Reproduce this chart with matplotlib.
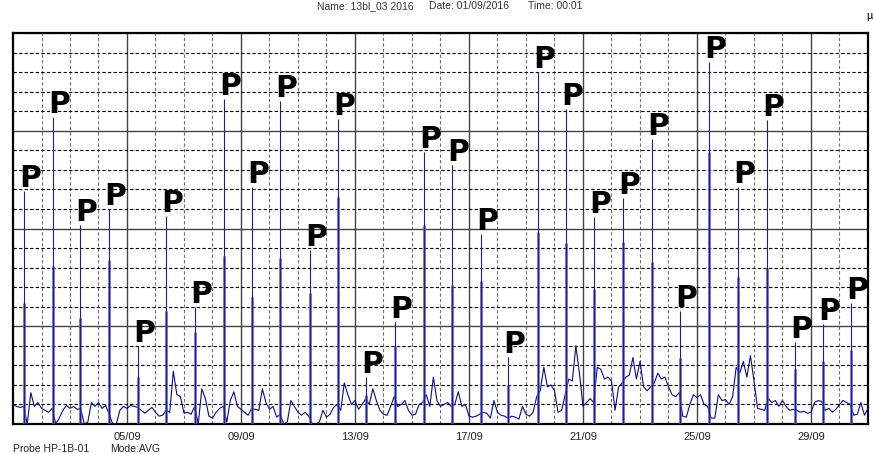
import numpy as np
import matplotlib
matplotlib.use("Agg")
import matplotlib.pyplot as plt

# baseline level, one value every 3 hours (8 per day), days 01/09 .. 30/09, grid units
base_vals = [
	1.0, 0.9, 0.85, 0.9, 0.0, 1.6, 0.9, 1.1,
	0.8, 0.7, 0.6, 0.8, 0.0, 0.3, 0.7, 0.95,
	0.8, 0.9, 0.75, 0.8, 0.0, 0.1, 1.1, 0.9,
	1.1, 0.8, 0.95, 0.5, 0.0, 0.0, 0.7, 0.9,
	0.8, 0.95, 0.9, 0.85, 0.7, 0.55, 0.7, 0.85,
	0.6, 0.4, 0.45, 0.7, 0.6, 2.7, 1.5, 1.4,
	0.55, 0.6, 0.5, 0.9, 0.0, 1.8, 1.3, 0.4,
	0.3, 0.6, 0.8, 0.9, 0.1, 1.2, 1.65, 0.9,
	0.75, 0.6, 0.45, 0.8, 0.75, 0.7, 1.8, 1.1,
	0.75, 0.9, 0.35, 0.5, 0.0, 0.1, 1.2, 0.9,
	0.6, 0.45, 0.6, 0.4, 0.0, 0.0, 0.1, 0.7,
	0.35, 0.5, 0.85, 1.0, 0.7, 2.1, 1.5, 1.0,
	1.2, 0.75, 1.0, 1.3, 1.0, 1.8, 1.2, 0.7,
	0.5, 0.45, 0.9, 1.4, 0.9, 1.0, 1.2, 0.7,
	0.45, 0.5, 1.0, 1.1, 1.5, 0.9, 2.4, 1.2,
	0.9, 1.0, 1.1, 0.9, 1.0, 1.65, 0.9, 1.0,
	0.4, 0.35, 0.4, 0.5, 0.6, 0.55, 0.3, 1.2,
	0.6, 0.45, 0.4, 0.3, 0.4, 0.35, 0.25, 0.9,
	0.5, 0.4, 0.6, 1.4, 1.7, 2.9, 1.9, 2.0,
	1.7, 0.6, 0.7, 1.5, 2.3, 2.2, 4.0, 2.6,
	0.9, 1.1, 1.3, 1.1, 2.9, 2.8, 2.3, 2.4,
	2.2, 0.7, 1.9, 2.1, 2.4, 2.5, 3.4, 2.3,
	3.2, 1.9, 1.7, 1.9, 2.1, 2.6, 2.3, 2.4,
	1.9, 1.5, 1.4, 1.6, 0.4, 0.35, 1.0, 1.5,
	1.35, 1.5, 1.0, 0.9, 0.3, 0.3, 1.5, 1.2,
	1.25, 1.0, 1.4, 2.9, 2.6, 3.2, 2.4, 3.5,
	2.2, 0.8, 0.75, 0.7, 1.3, 1.1, 1.2, 0.9,
	1.2, 0.9, 0.7, 0.75, 0.7, 0.6, 0.65, 0.55,
	0.6, 1.1, 1.2, 1.15, 0.7, 0.8, 0.6, 0.75,
	1.0, 1.2, 1.1, 1.0, 0.45, 0.5, 1.1, 0.45,
	0.8]
base_day = np.arange(len(base_vals)) * 3 / 24.0

# the marked peaks (P)
peak_day = [0.39, 1.39, 2.35, 3.38, 4.40, 5.38, 6.39, 7.40, 8.37, 9.38,
	10.42, 11.39, 12.40, 13.40, 14.43, 15.39, 16.41, 17.38, 18.41, 19.40,
	20.39, 21.42, 22.43, 23.40, 24.43, 25.45, 26.45, 27.43, 28.42, 29.40]
peak_top = [11.9, 15.7, 10.2, 11.0, 4.0, 10.65, 6.0, 16.6, 12.1, 16.5,
	8.9, 15.6, 2.4, 5.2, 13.9, 13.25, 9.7, 3.45, 18.0, 16.1,
	10.6, 11.55, 14.6, 5.8, 18.5, 12.1, 15.55, 4.2, 5.1, 6.2]
peak_mid = [6.2, 8.1, 5.4, 8.4, 2.4, 5.8, 4.7, 8.6, 6.5, 8.5,
	6.7, 11.6, 1.5, 4.0, 10.2, 7.1, 7.3, 2.0, 9.8, 9.25,
	6.9, 9.3, 8.3, 3.4, 13.9, 7.5, 8.0, 2.8, 3.2, 3.8]

tick_days = [4, 8, 12, 16, 20, 24, 28]
tick_labels = ["05/09", "09/09", "13/09", "17/09", "21/09", "25/09", "29/09"]

fig = plt.figure(figsize=(8.73, 4.54), dpi=100)
ax = fig.add_axes([13/873, 30/454, 855/873, 391/454])

ax.plot(base_day, base_vals, color="#0c0c86", lw=0.8, zorder=3)
ax.vlines(peak_day, 0, peak_mid, color="#5a5ab8", lw=1.8, zorder=3)
ax.vlines(peak_day, 0, peak_top, color="#1c1c9c", lw=0.8, zorder=4)

for d, h in zip(peak_day, peak_top):
	ax.annotate("P", (d, h), xytext=(-3.4, 2.9), textcoords="offset points",
		ha="left", va="baseline", fontsize=21.5, fontweight="bold",
		family="DejaVu Sans", color="black", zorder=5, annotation_clip=False)

ax.set_xlim(0, 30)
ax.set_ylim(0, 20)
ax.set_xticks(tick_days)
ax.set_xticklabels(tick_labels, fontsize=8, family="Liberation Sans", color="#222222")
ax.set_xticks(np.arange(0, 31), minor=True)
ax.set_yticks([5, 10, 15])
ax.set_yticks(np.arange(0, 21), minor=True)
ax.set_yticklabels([])
ax.tick_params(which="both", length=0, pad=6)

ax.grid(which="minor", axis="y", ls=(0, (3, 2)), color="black", lw=0.8)
ax.grid(which="minor", axis="x", ls=(0, (3, 2)), color="#707070", lw=0.8)
ax.grid(which="major", ls="-", color="#444444", lw=1.0)
ax.set_axisbelow(True)
for s in ax.spines.values():
	s.set_linewidth(1.6)
	s.set_color("black")

fig.text(317/873, 1 - 9/454, "Name: 13bl_03 2016", fontsize=7.5, family="Liberation Sans", color="#333333", va="baseline")
fig.text(429/873, 1 - 9/454, "Date: 01/09/2016", fontsize=7.5, family="Liberation Sans", color="#333333", va="baseline")
fig.text(528/873, 1 - 9/454, "Time: 00:01", fontsize=7.5, family="Liberation Sans", color="#333333", va="baseline")
fig.text(866/873, 1 - 19/454, "\u00b5", fontsize=8, family="Liberation Sans", color="black", va="baseline")
fig.text(13/873, 1 - 452/454, "Probe HP-1B-01", fontsize=7.5, family="Liberation Sans", color="#222222", va="baseline")
fig.text(110/873, 1 - 452/454, "Mode:AVG", fontsize=7.5, family="Liberation Sans", color="#222222", va="baseline")

fig.savefig("out.png", dpi=100)
